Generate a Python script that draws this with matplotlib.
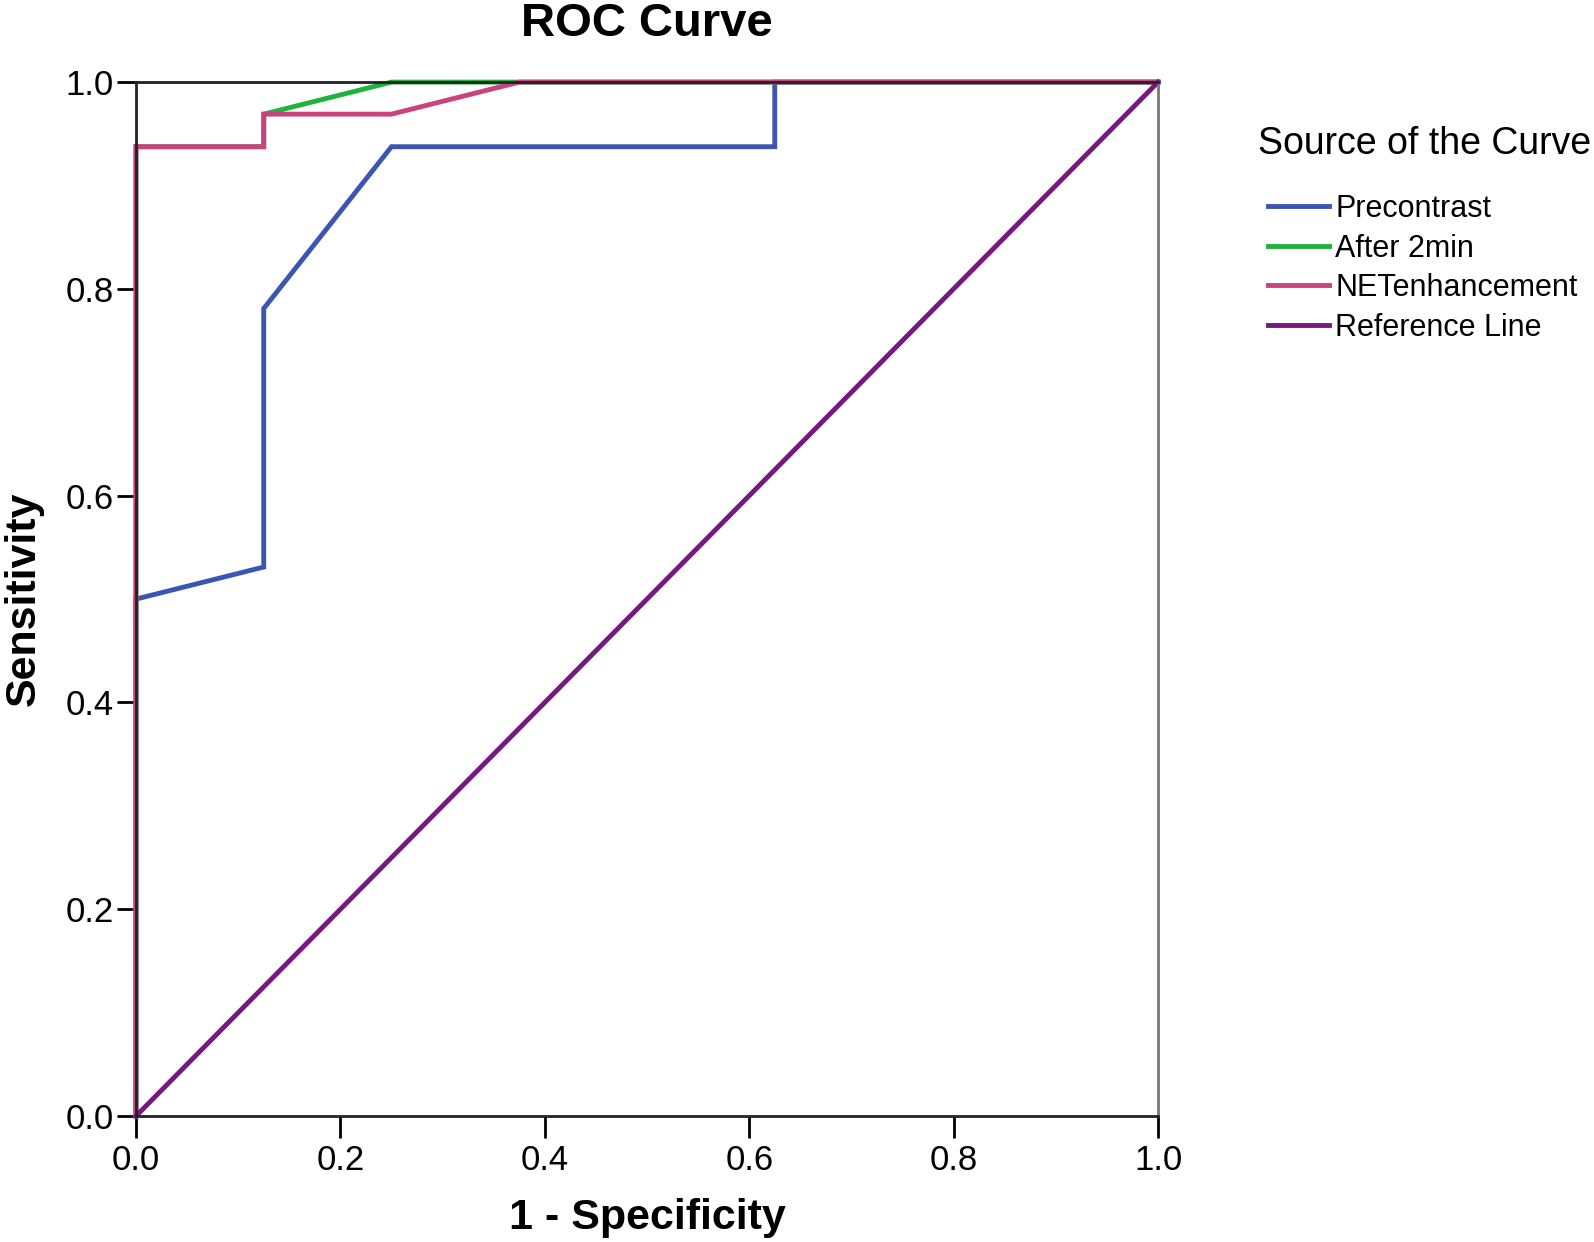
import matplotlib
matplotlib.use("Agg")
import matplotlib.pyplot as plt

# ROC points (1 - specificity, sensitivity)
pre_fpr = [0.0, 0.0, 0.125, 0.125, 0.25, 0.625, 0.625, 1.0]
pre_tpr = [0.0, 0.5, 0.531, 0.781, 0.9375, 0.9375, 1.0, 1.0]

a2_fpr = [0.0, 0.0, 0.125, 0.125, 0.25, 1.0]
a2_tpr = [0.0, 0.9375, 0.9375, 0.969, 1.0, 1.0]

net_fpr = [0.0, 0.0, 0.125, 0.125, 0.25, 0.375, 1.0]
net_tpr = [0.0, 0.9375, 0.9375, 0.969, 0.969, 1.0, 1.0]

ref_x = [0.0, 1.0]
ref_y = [0.0, 1.0]

labels = ["Precontrast", "After 2min", "NETenhancement", "Reference Line"]
colors = ["#3a56b0", "#1fb33c", "#c9437c", "#76197e"]
ticks = [0.0, 0.2, 0.4, 0.6, 0.8, 1.0]

plt.rcParams['font.family'] = ['Liberation Sans', 'DejaVu Sans']

fig = plt.figure(figsize=(15.94, 12.42), dpi=100)
ax = fig.add_axes([0.0853, 0.1014, 0.6412, 0.8325])

lw = 3.5
series = [(pre_fpr, pre_tpr), (a2_fpr, a2_tpr), (net_fpr, net_tpr), (ref_x, ref_y)]
for (x, y), lab, c in zip(series, labels, colors):
    ax.plot(x, y, color=c, lw=lw, label=lab, clip_on=False, solid_joinstyle='miter')

ax.set_xlim(0, 1)
ax.set_ylim(0, 1)
ax.set_xticks(ticks)
ax.set_yticks(ticks)
ax.set_xticklabels([f"{t:.1f}" for t in ticks])
ax.set_yticklabels([f"{t:.1f}" for t in ticks])
ax.tick_params(axis='both', direction='out', length=16, width=2, labelsize=25, pad=4, colors='black')
ax.tick_params(axis='y', length=14, pad=2)

for side in ['top', 'left', 'bottom']:
    ax.spines[side].set_color('#222222')
    ax.spines[side].set_linewidth(2)
ax.spines['right'].set_color('#777777')
ax.spines['right'].set_linewidth(2)

ax.set_title("ROC Curve", fontsize=34, fontweight='bold', pad=33)
ax.set_xlabel("1 - Specificity", fontsize=31, fontweight='bold', labelpad=15)
ax.set_ylabel("Sensitivity", fontsize=31, fontweight='bold', labelpad=16)

# legend title placed on its own, entries below with a wider gap
fig.text(0.789, 0.884, "Source of the Curve", fontsize=27, ha='left', va='center')
leg = fig.legend(loc='upper left', bbox_to_anchor=(0.786, 0.856), frameon=False,
                 fontsize=22, handlelength=2.0, handletextpad=0.2, labelspacing=0.31,
                 borderpad=0)
for h in leg.get_lines():
    h.set_linewidth(3.5)

fig.savefig("out.png", dpi=100)
